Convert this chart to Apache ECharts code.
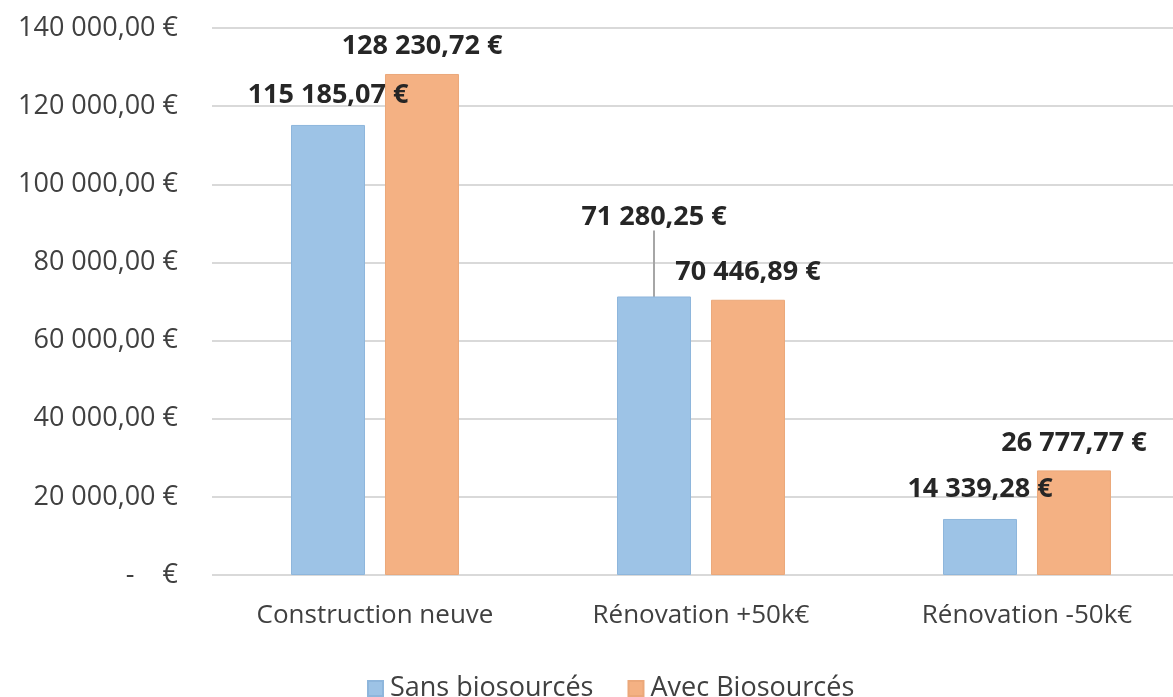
<!DOCTYPE html>
<html>
	<head>
		<meta charset="utf-8" />
		<title>Coûts</title>
		<script src="https://cdn.jsdelivr.net/npm/echarts@6/dist/echarts.min.js"></script>
		<style>
			html, body { margin: 0; padding: 0; background: #fff; overflow: hidden; }
			#main { width: 1190px; height: 697px; }
		</style>
	</head>
	<body>
		<div id="main"></div>
	<script>
	var categories = ["Construction neuve", "Rénovation +50k€", "Rénovation -50k€"];
	var seriesNames = ["Sans biosourcés", "Avec Biosourcés"];
	var sansBio = [115185.07, 71280.25, 14339.28];
	var avecBio = [128230.72, 70446.89, 26777.77];
	var yTicks = [0, 20000, 40000, 60000, 80000, 100000, 120000, 140000];

	function fmtEuro(v, dec) {
		var s = v.toFixed(dec);
		var parts = s.split(".");
		var ent = parts[0].replace(/\B(?=(\d{3})+(?!\d))/g, " ");
		return ent + "," + parts[1] + " €";
	}

	var FONT = "'Open Sans', sans-serif";

	// seule l'étiquette déplacée (Rénovation +50k€) a un trait de rappel
	var sansBioData = sansBio.map(function (v, i) {
		return i === 1 ? { value: v, labelLine: { show: true } } : { value: v };
	});

	var chart = echarts.init(document.getElementById("main"));

	var option = {
		animation: false,
		backgroundColor: "#ffffff",
		grid: { left: 212, top: 28, width: 978, height: 547, containLabel: false },
		legend: {
			top: 670,
			left: 362,
			itemWidth: 15,
			itemHeight: 15,
			itemGap: 34,
			icon: "rect",
			textStyle: { fontFamily: FONT, fontSize: 27, color: "#404040", padding: [0, 0, 0, 2] },
			data: seriesNames
		},
		xAxis: {
			type: "category",
			data: categories,
			axisLine: { show: false },
			axisTick: { show: false },
			axisLabel: { fontFamily: FONT, fontSize: 26, color: "#404040", margin: 28 }
		},
		yAxis: {
			type: "value",
			min: yTicks[0],
			max: yTicks[yTicks.length - 1],
			interval: 20000,
			axisLine: { show: false },
			axisTick: { show: false },
			splitLine: { lineStyle: { color: "#d9d9d9", width: 2 } },
			axisLabel: {
				fontFamily: FONT, fontSize: 27, color: "#404040", margin: 34,
				formatter: function (v) { return v === 0 ? "-    €" : fmtEuro(v, 2); }
			}
		},
		series: [
			{
				name: seriesNames[0],
				type: "bar",
				data: sansBioData,
				barWidth: 74,
				barGap: "27%",
				itemStyle: { color: "#9dc3e6", borderColor: "#8eb6dc", borderWidth: 1 },
				label: {
					show: true, position: "top", distance: 16,
					fontFamily: FONT, fontSize: 27, fontWeight: "bold", color: "#262626",
					formatter: function (p) { return fmtEuro(p.value, 2); }
				},
				labelLayout: function (p) {
					return p.dataIndex === 1 ? { dy: -50 } : {};
				},
				labelLine: { show: false, length2: 0, lineStyle: { color: "#a6a6a6", width: 2 } }
			},
			{
				name: seriesNames[1],
				type: "bar",
				data: avecBio,
				barWidth: 74,
				itemStyle: { color: "#f4b183", borderColor: "#eba87a", borderWidth: 1 },
				label: {
					show: true, position: "top", distance: 14,
					fontFamily: FONT, fontSize: 27, fontWeight: "bold", color: "#262626",
					formatter: function (p) { return fmtEuro(p.value, 2); }
				}
			}
		]
	};

	chart.setOption(option);
	</script>
	</body>
</html>
